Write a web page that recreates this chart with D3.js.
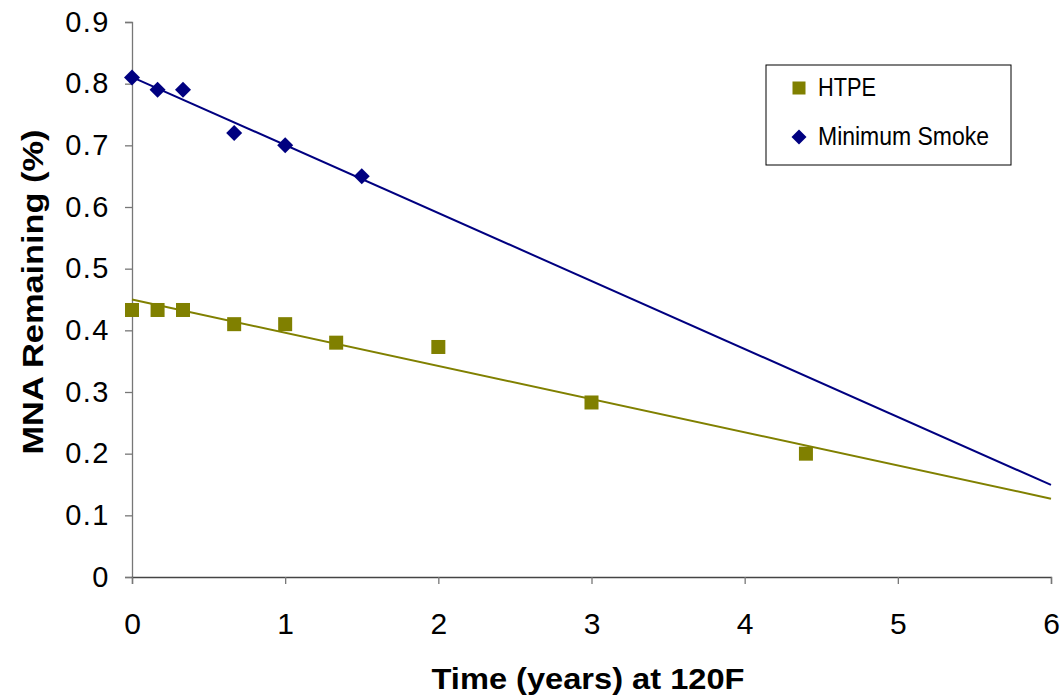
<!DOCTYPE html>
<html>
<head>
<meta charset="utf-8">
<script src="https://cdn.jsdelivr.net/npm/d3@7"></script>
<style>
  body { margin: 0; background: #fff; }
  text { font-family: "Liberation Sans", Arial, sans-serif; }
</style>
</head>
<body>
<div id="chart"></div>
<script>
// data
var htpeTime = [0, 0.167, 0.333, 0.667, 1, 1.333, 2, 3, 4.4];
var htpeMna = [0.433, 0.433, 0.433, 0.41, 0.41, 0.38, 0.373, 0.283, 0.2];
var smokeTime = [0, 0.167, 0.333, 0.667, 1, 1.5];
var smokeMna = [0.81, 0.79, 0.79, 0.72, 0.70, 0.65];
var xTicks = [0, 1, 2, 3, 4, 5, 6];
var yTicks = [0, 0.1, 0.2, 0.3, 0.4, 0.5, 0.6, 0.7, 0.8, 0.9];

var W = 1062, H = 697;
var margin = {top: 22, right: 10, bottom: 120, left: 132},
    width = 1051 - margin.left,
    height = 577 - margin.top;

var svg = d3.select("#chart").append("svg")
    .attr("width", W)
    .attr("height", H);

var g = svg.append("g")
    .attr("transform", "translate(" + margin.left + "," + margin.top + ")");

var x = d3.scaleLinear().domain([0, 6]).range([0, width]);
var y = d3.scaleLinear().domain([0, 0.9]).range([height, 0]);

// least squares trend line
function fit(xs, ys) {
  var mx = d3.mean(xs), my = d3.mean(ys);
  var sxy = 0, sxx = 0;
  for (var i = 0; i < xs.length; i++) {
    sxy += (xs[i] - mx) * (ys[i] - my);
    sxx += (xs[i] - mx) * (xs[i] - mx);
  }
  var b = sxy / sxx;
  return {slope: b, icpt: my - b * mx};
}

// axes
var yAxis = g.append("g")
    .call(d3.axisLeft(y).tickValues(yTicks).tickSize(7).tickPadding(15)
      .tickFormat(function(d) { return d === 0 ? "0" : d3.format(".1f")(d); }));
var xAxis = g.append("g")
    .attr("transform", "translate(0," + height + ")")
    .call(d3.axisBottom(x).tickValues(xTicks).tickSize(7).tickPadding(29)
      .tickFormat(d3.format("d")));

[yAxis, xAxis].forEach(function(a) {
  a.attr("font-family", "Liberation Sans, Arial, sans-serif");
  a.select(".domain").attr("stroke", "#777").attr("stroke-width", 1.3);
  a.selectAll(".tick line").attr("stroke", "#777").attr("stroke-width", 1.3);
  a.selectAll(".tick text").attr("fill", "#000");
});
xAxis.select(".domain").attr("stroke", "#444");
yAxis.attr("font-size", 29).selectAll(".tick text").attr("letter-spacing", 1.5);
xAxis.attr("font-size", 30);

// trend lines
var series = [
  {name: "HTPE", xs: htpeTime, ys: htpeMna, color: "#808000", shape: "square", len: 58},
  {name: "Minimum Smoke", xs: smokeTime, ys: smokeMna, color: "#000080", shape: "diamond", len: 171}
];

series.forEach(function(s) {
  var f = fit(s.xs, s.ys);
  g.append("line")
    .attr("x1", x(0)).attr("y1", y(f.icpt))
    .attr("x2", x(6)).attr("y2", y(f.icpt + f.slope * 6))
    .attr("stroke", s.color)
    .attr("stroke-width", 2);
});

function marker(sel, shape, color, r) {
  if (shape === "square") {
    sel.append("rect")
      .attr("x", -r).attr("y", -r)
      .attr("width", 2 * r).attr("height", 2 * r)
      .attr("fill", color);
  } else {
    r = r + 1;
    sel.append("path")
      .attr("d", "M0," + (-r) + "L" + r + ",0L0," + r + "L" + (-r) + ",0Z")
      .attr("fill", color);
  }
}

series.forEach(function(s) {
  var pts = s.xs.map(function(t, i) { return [t, s.ys[i]]; });
  g.selectAll(null)
    .data(pts)
    .enter().append("g")
    .attr("transform", function(d) { return "translate(" + x(d[0]) + "," + y(d[1]) + ")"; })
    .each(function() { marker(d3.select(this), s.shape, s.color, 7); });
});

// axis titles
svg.append("text")
    .attr("x", 588).attr("y", 689)
    .attr("text-anchor", "middle")
    .attr("font-size", 30).attr("font-weight", "bold")
    .attr("textLength", 313).attr("lengthAdjust", "spacingAndGlyphs")
    .text("Time (years) at 120F");

svg.append("text")
    .attr("transform", "translate(43,292) rotate(-90)")
    .attr("text-anchor", "middle")
    .attr("font-size", 30).attr("font-weight", "bold")
    .attr("textLength", 325).attr("lengthAdjust", "spacingAndGlyphs")
    .text("MNA Remaining (%)");

// legend
var leg = svg.append("g").attr("transform", "translate(766,65)");
leg.append("rect")
    .attr("width", 245).attr("height", 100)
    .attr("fill", "#fff")
    .attr("stroke", "#000").attr("stroke-width", 1);

series.forEach(function(s, i) {
  var row = leg.append("g").attr("transform", "translate(33," + (23 + i * 49) + ")");
  marker(row.append("g"), s.shape, s.color, 6.5);
  row.append("text")
    .attr("x", 19).attr("y", 8)
    .attr("font-size", 25)
    .attr("textLength", s.len).attr("lengthAdjust", "spacingAndGlyphs")
    .text(s.name);
});
</script>
</body>
</html>
